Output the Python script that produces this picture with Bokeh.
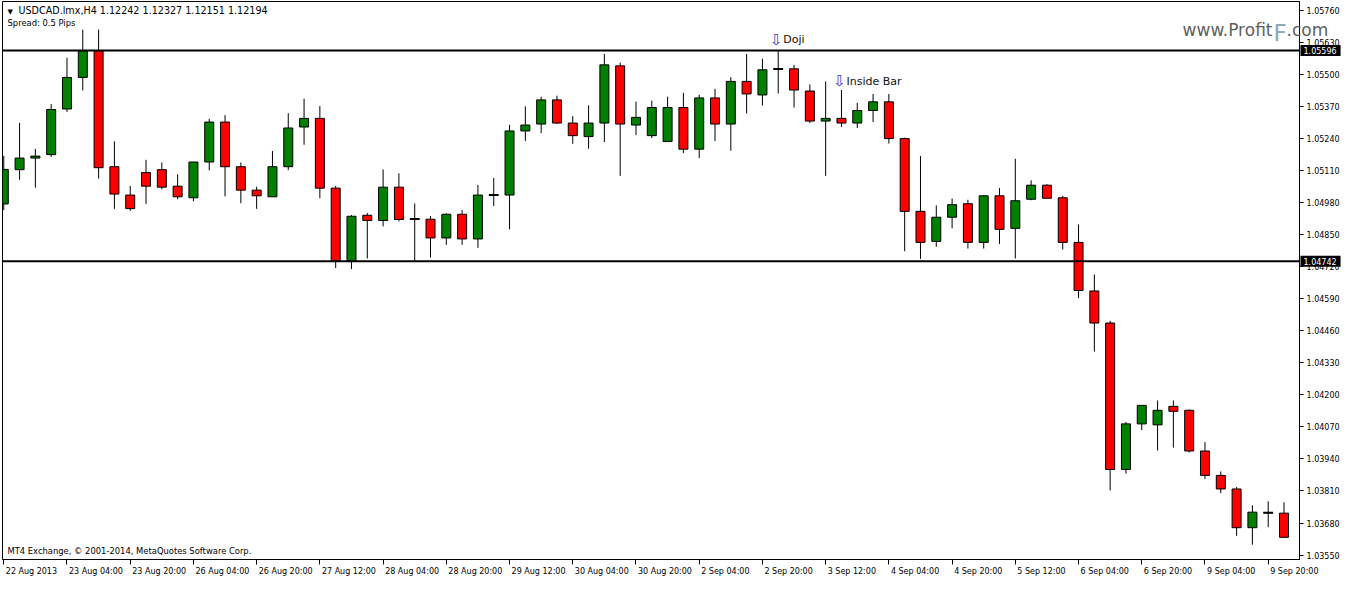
import numpy as np
from bokeh.plotting import figure
from bokeh.models import Range1d, FixedTicker, PrintfTickFormatter, Label, Span
from bokeh.embed import file_html
from bokeh.resources import INLINE
from bokeh.core.properties import value

# ---------------- data ----------------
header_text = "USDCAD.lmx,H4  1.12242 1.12327 1.12151 1.12194"
spread_text = "Spread: 0.5 Pips"
copyright_text = "MT4 Exchange, \u00a9 2001-2014, MetaQuotes Software Corp."

opens = [1.04974, 1.05113, 1.05160, 1.05174, 1.05359, 1.05487, 1.05595, 1.05125, 1.05010, 1.05101,
         1.05113, 1.05046, 1.04999, 1.05144, 1.05306, 1.05125, 1.05030, 1.05003, 1.05125, 1.05286,
         1.05321, 1.05038, 1.04743, 1.04928, 1.04907, 1.05042, 1.04913, 1.04912, 1.04836, 1.04932,
         1.04832, 1.05010, 1.05010, 1.05270, 1.05298, 1.05396, 1.05302, 1.05247, 1.05302, 1.05534,
         1.05294, 1.05251, 1.05227, 1.05365, 1.05196, 1.05404, 1.05298, 1.05471, 1.05416, 1.05521,
         1.05522, 1.05432, 1.05310, 1.05321, 1.05302, 1.05353, 1.05388, 1.05239, 1.04944, 1.04822,
         1.04920, 1.04975, 1.04818, 1.05007, 1.04875, 1.04993, 1.05050, 1.04999, 1.04818, 1.04621,
         1.04491, 1.03897, 1.04082, 1.04078, 1.04153, 1.04137, 1.03972, 1.03873, 1.03818, 1.03661,
         1.03722, 1.03720]
highs = [1.05169, 1.05303, 1.05197, 1.05379, 1.05567, 1.05681, 1.05681, 1.05228, 1.05047, 1.05153,
         1.05142, 1.05094, 1.05145, 1.05319, 1.05334, 1.05142, 1.05044, 1.05189, 1.05342, 1.05401,
         1.05371, 1.05047, 1.04929, 1.04937, 1.05114, 1.05098, 1.04976, 1.04925, 1.04937, 1.04949,
         1.05051, 1.05079, 1.05295, 1.05370, 1.05409, 1.05413, 1.05330, 1.05374, 1.05582, 1.05547,
         1.05389, 1.05393, 1.05409, 1.05425, 1.05417, 1.05441, 1.05488, 1.05582, 1.05563, 1.05596,
         1.05538, 1.05459, 1.05471, 1.05436, 1.05384, 1.05420, 1.05420, 1.05243, 1.05168, 1.04968,
         1.04996, 1.04991, 1.05010, 1.05038, 1.05157, 1.05070, 1.05054, 1.05007, 1.04891, 1.04688,
         1.04500, 1.04090, 1.04157, 1.04177, 1.04177, 1.04141, 1.04008, 1.03889, 1.03826, 1.03752,
         1.03768, 1.03764]
lows = [1.04949, 1.05072, 1.05040, 1.05165, 1.05347, 1.05434, 1.05077, 1.04954, 1.04946, 1.04974,
        1.05033, 1.04993, 1.04985, 1.05110, 1.05005, 1.04977, 1.04954, 1.05002, 1.05111, 1.05214,
        1.04997, 1.04714, 1.04710, 1.04753, 1.04883, 1.04903, 1.04743, 1.04757, 1.04808, 1.04808,
        1.04796, 1.04966, 1.04871, 1.05229, 1.05261, 1.05298, 1.05218, 1.05198, 1.05225, 1.05088,
        1.05253, 1.05241, 1.05227, 1.05180, 1.05160, 1.05229, 1.05190, 1.05341, 1.05373, 1.05422,
        1.05365, 1.05302, 1.05088, 1.05286, 1.05282, 1.05306, 1.05219, 1.04782, 1.04751, 1.04800,
        1.04875, 1.04793, 1.04793, 1.04812, 1.04753, 1.04989, 1.04997, 1.04789, 1.04592, 1.04375,
        1.03812, 1.03880, 1.04057, 1.03974, 1.03986, 1.03966, 1.03858, 1.03801, 1.03628, 1.03592,
        1.03663, 1.03622]
closes = [1.05114, 1.05160, 1.05168, 1.05357, 1.05487, 1.05595, 1.05121, 1.05014, 1.04955, 1.05046,
          1.05042, 1.05003, 1.05144, 1.05306, 1.05125, 1.05030, 1.05007, 1.05125, 1.05282, 1.05321,
          1.05038, 1.04743, 1.04924, 1.04907, 1.05042, 1.04911, 1.04913, 1.04836, 1.04932, 1.04832,
          1.05010, 1.05010, 1.05270, 1.05294, 1.05396, 1.05302, 1.05251, 1.05302, 1.05538, 1.05298,
          1.05325, 1.05365, 1.05365, 1.05196, 1.05404, 1.05298, 1.05471, 1.05420, 1.05518, 1.05521,
          1.05436, 1.05310, 1.05321, 1.05302, 1.05353, 1.05388, 1.05239, 1.04944, 1.04818, 1.04920,
          1.04971, 1.04818, 1.05007, 1.04871, 1.04987, 1.05050, 1.04997, 1.04818, 1.04623, 1.04491,
          1.03897, 1.04082, 1.04157, 1.04137, 1.04133, 1.03972, 1.03873, 1.03818, 1.03661, 1.03724,
          1.03722, 1.03622]

time_labels = ["22 Aug 2013", "23 Aug 04:00", "23 Aug 20:00", "26 Aug 04:00", "26 Aug 20:00",
               "27 Aug 12:00", "28 Aug 04:00", "28 Aug 20:00", "29 Aug 12:00", "30 Aug 04:00",
               "30 Aug 20:00", "2 Sep 04:00", "2 Sep 20:00", "3 Sep 12:00", "4 Sep 04:00",
               "4 Sep 20:00", "5 Sep 12:00", "6 Sep 04:00", "6 Sep 20:00", "9 Sep 04:00",
               "9 Sep 20:00"]
label_step = 4

price_ticks = [1.03550, 1.03680, 1.03810, 1.03940, 1.04070, 1.04200, 1.04330, 1.04460, 1.04590,
               1.04720, 1.04850, 1.04980, 1.05110, 1.05240, 1.05370, 1.05500, 1.05630, 1.05760]

levels = [1.05596, 1.04742]

pattern_names = ["Doji", "Inside Bar"]
pattern_bars = [49, 53]

# ---------------- figure ----------------
o = np.array(opens); h = np.array(highs); l = np.array(lows); c = np.array(closes)
n = len(o)
idx = np.arange(n)
colors = np.where(c > o, "#008000", np.where(c < o, "#FF0000", "#000000"))

X0, X1 = -0.08, n - 0.02
Y0, Y1 = 1.03532, 1.05795
FONT = "DejaVu Sans"
FRAME_W_EST = 1295.0            # approx. frame width in px, for label offsets
PX_PER_BAR = FRAME_W_EST / (X1 - X0)

p = figure(width=1342, height=578, x_range=Range1d(X0, X1), y_range=Range1d(Y0, Y1),
           y_axis_location="right", output_backend="svg", toolbar_location=None,
           min_border_left=2, min_border_top=1, min_border_right=0, min_border_bottom=0,
           background_fill_color="white", border_fill_color="white",
           outline_line_color="black", outline_line_width=1)
p.xgrid.visible = False
p.ygrid.visible = False

# wicks and bodies
p.segment(x0=idx, y0=l, x1=idx, y1=h, line_color="black", line_width=1)
p.vbar(x=idx, width=0.57, top=np.maximum(o, c), bottom=np.minimum(o, c),
       fill_color=colors, line_color="black", line_width=1)
doji = o == c
p.segment(x0=idx[doji] - 0.31, x1=idx[doji] + 0.31, y0=c[doji], y1=c[doji],
          line_color="black", line_width=2)

# horizontal levels
for lv in levels:
    p.add_layout(Span(location=lv, dimension="width", line_color="black", line_width=2))

# right price axis
ya = p.yaxis[0]
ya.ticker = FixedTicker(ticks=price_ticks)
ya.formatter = PrintfTickFormatter(format="%.5f")
ya.major_tick_out = 4
ya.major_tick_in = 0
ya.minor_tick_out = 0
ya.minor_tick_in = 0
ya.axis_line_color = "black"
ya.major_label_standoff = 3
ya.major_label_text_font = FONT
ya.major_label_text_font_size = "8px"
ya.major_label_text_color = "black"

# time axis: tick marks at the bars (minor ticks), labels left-aligned after them
CW = {**{d: 0.636 for d in "0123456789"}, " ": 0.318, ":": 0.337, "A": 0.684, "u": 0.634,
      "g": 0.635, "S": 0.635, "e": 0.615, "p": 0.635}
def text_w(s, size=8.0):
    return sum(CW.get(ch, 0.62) for ch in s) * size

bar_ticks = list(range(0, n, label_step))[:len(time_labels)]
label_ticks = [t + (text_w(s) / 2 + 2) / PX_PER_BAR for t, s in zip(bar_ticks, time_labels)]
xa = p.xaxis[0]
xa.ticker = FixedTicker(ticks=label_ticks, minor_ticks=bar_ticks)
xa.major_label_overrides = {t: s for t, s in zip(label_ticks, time_labels)}
xa.major_tick_out = 0
xa.major_tick_in = 0
xa.minor_tick_out = 5
xa.minor_tick_in = 0
xa.minor_tick_line_color = "black"
xa.axis_line_color = "black"
xa.major_label_standoff = 2
xa.major_label_text_font = FONT
xa.major_label_text_font_size = "8px"
xa.major_label_text_color = "black"

# price tags on the right axis (overlay level, drawn over the axis)
p.text(x=[X1] * len(levels), y=levels, text=[f"{lv:.5f}" for lv in levels],
       x_offset=1, text_color="white", text_font=value(FONT), text_font_size="8px",
       text_align="left", text_baseline="middle", background_fill_color="black",
       padding=dict(left=3, right=4, top=2, bottom=2), level="overlay")

# header texts
p.add_layout(Label(x=X0, y=Y1, x_offset=5, y_offset=-10, text="\u25bc", text_font=FONT,
                   text_font_size="7px", text_color="black", text_align="left", text_baseline="middle"))
p.add_layout(Label(x=X0, y=Y1, x_offset=16, y_offset=-9, text=header_text, text_font=FONT,
                   text_font_size="9.6px", text_color="black", text_align="left", text_baseline="middle"))
p.add_layout(Label(x=X0, y=Y1, x_offset=5, y_offset=-21.5, text=spread_text, text_font=FONT,
                   text_font_size="8.4px", text_color="black", text_align="left", text_baseline="middle"))
p.add_layout(Label(x=X0, y=Y0, x_offset=5, y_offset=9, text=copyright_text, text_font=FONT,
                   text_font_size="8.4px", text_color="black", text_align="left", text_baseline="middle"))

# watermark (overlay level so it may run over the axis)
p.text(x=[X1], y=[Y1], text=["www.Profit"], x_offset=-27, y_offset=28, text_font=value(FONT),
       text_font_size="17px", text_color="#5f5f5f", text_align="right",
       text_baseline="alphabetic", level="overlay")
p.text(x=[X1], y=[Y1], text=["F"], x_offset=-26, y_offset=31, text_font=value(FONT),
       text_font_size="23px", text_color="#8fa9b4", text_align="left",
       text_baseline="alphabetic", level="overlay")
p.text(x=[X1], y=[Y1], text=[".com"], x_offset=-13, y_offset=28, text_font=value(FONT),
       text_font_size="17px", text_color="#5f5f5f", text_align="left",
       text_baseline="alphabetic", level="overlay")

# pattern annotations
for name, bar, dy in zip(pattern_names, pattern_bars, [11, 9]):
    p.add_layout(Label(x=bar, y=h[bar], x_offset=-2, y_offset=dy, text="\u21e9", text_font=FONT,
                       text_font_size="15px", text_color="#3535c8",
                       text_align="center", text_baseline="middle"))
    p.add_layout(Label(x=bar, y=h[bar], x_offset=5, y_offset=dy, text=name, text_font=FONT,
                       text_font_size="11px", text_color="#111111", text_align="left",
                       text_baseline="middle"))

open("out.html", "w").write(file_html(p, INLINE))
